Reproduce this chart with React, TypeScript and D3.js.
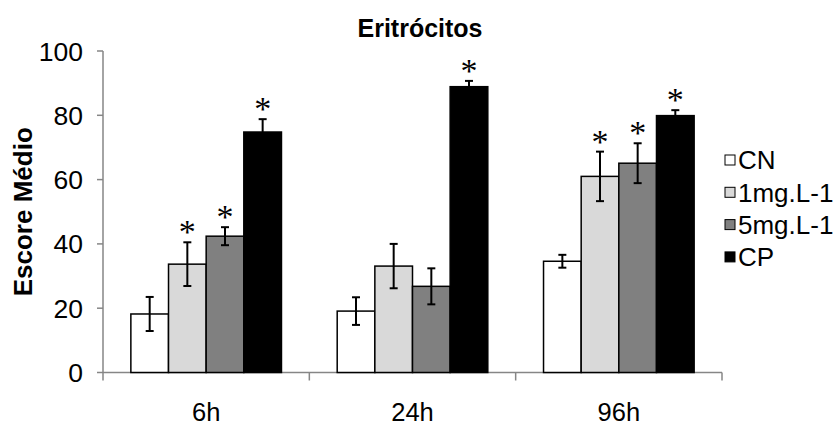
import { scaleBand, scaleLinear } from "d3";

const categories = ["6h", "24h", "96h"];
const seriesNames = ["CN", "1mg.L-1", "5mg.L-1", "CP"];
const yTicks = [0, 20, 40, 60, 80, 100];

// means per group (6h, 24h, 96h)
const cnMeans = [18.2, 19.1, 34.6];
const lowMeans = [33.7, 33.1, 61.0];
const highMeans = [42.4, 26.8, 65.1];
const cpMeans = [74.8, 88.9, 79.9];

// standard error
const cnErr = [5.3, 4.3, 2.0];
const lowErr = [6.8, 6.9, 7.7];
const highErr = [2.8, 5.6, 6.2];
const cpErr = [4.0, 1.8, 1.7];

// significance marks (*)
const cnSig = [false, false, false];
const lowSig = [true, false, true];
const highSig = [true, false, true];
const cpSig = [true, true, true];

const fills = ["#ffffff", "#d9d9d9", "#808080", "#000000"];
const font = "'Liberation Sans', Arial, sans-serif";

function App() {
  const width = 835;
  const height = 425;
  const margin = { top: 51, right: 113, bottom: 52.5, left: 103 };
  const innerWidth = width - margin.left - margin.right;
  const innerHeight = height - margin.top - margin.bottom;

  const means = [cnMeans, lowMeans, highMeans, cpMeans];
  const errs = [cnErr, lowErr, highErr, cpErr];
  const sigs = [cnSig, lowSig, highSig, cpSig];

  const x0 = scaleBand().domain(categories).range([0, innerWidth]).padding(0);
  const x1 = scaleBand()
    .domain(seriesNames)
    .range([0, x0.bandwidth()])
    .paddingInner(0)
    .paddingOuter(0.74);
  const y = scaleLinear().domain([0, 100]).range([innerHeight, 0]);

  const axisColor = "#868686";
  const capW = 4;

  return (
    <svg
      width={width}
      height={height}
      style={{ position: "absolute", left: 0, top: 0, background: "#fff" }}
    >
      <text
        x={420}
        y={37}
        textAnchor="middle"
        fontFamily={font}
        fontWeight="bold"
        fontSize={25}
      >
        Eritrócitos
      </text>
      <text
        transform={`translate(32,${margin.top + innerHeight / 2}) rotate(-90)`}
        textAnchor="middle"
        fontFamily={font}
        fontWeight="bold"
        fontSize={26}
      >
        Escore Médio
      </text>
      <g transform={`translate(${margin.left},${margin.top})`}>
        {/* y axis */}
        <line x1={0} x2={0} y1={0} y2={innerHeight} stroke={axisColor} strokeWidth={1.5} />
        {yTicks.map((t) => (
          <g key={t} transform={`translate(0,${y(t)})`}>
            <line x1={-6} x2={0} stroke={axisColor} strokeWidth={1.5} />
            <text
              x={-20}
              dy="0.36em"
              textAnchor="end"
              fontFamily={font}
              fontSize={26.5}
            >
              {t}
            </text>
          </g>
        ))}
        {/* x axis */}
        <line x1={0} x2={innerWidth} y1={innerHeight} y2={innerHeight} stroke={axisColor} strokeWidth={1.5} />
        {[...categories.map((c) => x0(c) as number), innerWidth].map((px, i) => (
          <line
            key={i}
            x1={px}
            x2={px}
            y1={innerHeight}
            y2={innerHeight + 8}
            stroke={axisColor}
            strokeWidth={1.5}
          />
        ))}
        {categories.map((c) => (
          <text
            key={c}
            x={(x0(c) as number) + x0.bandwidth() / 2}
            y={innerHeight + 48}
            textAnchor="middle"
            fontFamily={font}
            fontSize={25.5}
          >
            {c}
          </text>
        ))}
        {/* bars */}
        {categories.map((c, ci) => (
          <g key={c} transform={`translate(${x0(c)},0)`}>
            {seriesNames.map((s, si) => {
              const v = means[si][ci];
              const e = errs[si][ci];
              const bx = x1(s) as number;
              const cx = bx + x1.bandwidth() / 2;
              return (
                <g key={s}>
                  <rect
                    x={bx}
                    y={y(v)}
                    width={x1.bandwidth()}
                    height={innerHeight - y(v)}
                    fill={fills[si]}
                    stroke="#000"
                    strokeWidth={1.5}
                  />
                  <g stroke="#000" strokeWidth={2}>
                    <line x1={cx} x2={cx} y1={y(v + e)} y2={y(v - e)} />
                    <line x1={cx - capW} x2={cx + capW} y1={y(v + e)} y2={y(v + e)} />
                    <line x1={cx - capW} x2={cx + capW} y1={y(v - e)} y2={y(v - e)} />
                  </g>
                  {sigs[si][ci] && (
                    <text
                      x={cx}
                      y={y(v + e) + 1}
                      textAnchor="middle"
                      fontFamily="'Liberation Serif', 'Times New Roman', serif"
                      fontSize={34}
                    >
                      *
                    </text>
                  )}
                </g>
              );
            })}
          </g>
        ))}
      </g>
      {/* legend */}
      <g transform="translate(725,160)">
        {seriesNames.map((s, i) => (
          <g key={s} transform={`translate(0,${i * 32.3})`}>
            <rect x={0} y={-5} width={10} height={10} fill={fills[i]} stroke="#000" strokeWidth={1} />
            <text x={13} dy="0.36em" fontFamily={font} fontSize={26}>
              {s}
            </text>
          </g>
        ))}
      </g>
    </svg>
  );
}

export default App;
